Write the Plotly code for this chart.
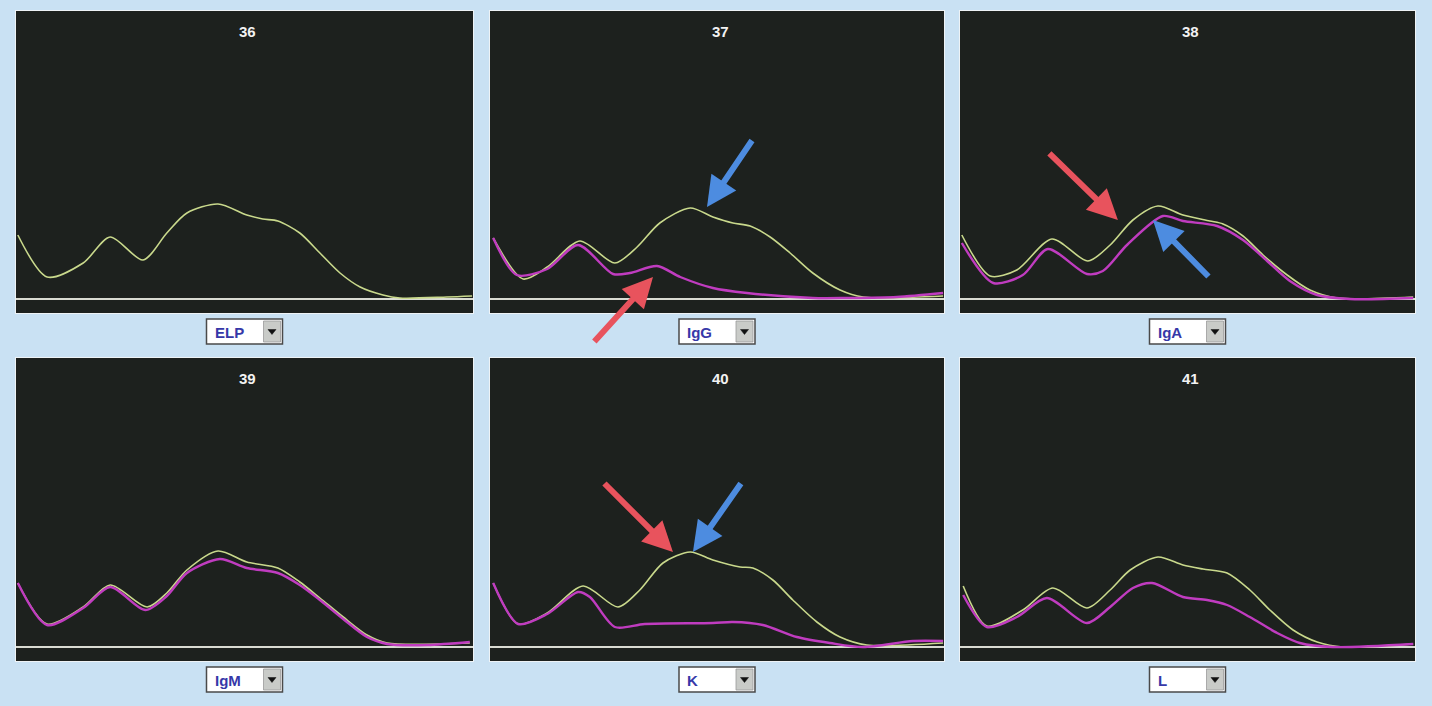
import plotly.graph_objects as go

W, H = 1432, 706

# ---------------- data (x: % of scan width, y: signal above baseline) ----------------
panel_titles = ["36", "37", "38", "39", "40", "41"]
panel_labels = ["ELP", "IgG", "IgA", "IgM", "K", "L"]

elp36_x = [0.4, 6.8, 14.7, 20.6, 27.8, 33.0, 37.4, 44.2, 50.5, 54.0, 57.3, 62.1, 66.5, 70.9, 75.3, 80.3, 84.0, 94.3, 99.8]
elp36_y = [64, 22, 36, 62, 39, 66, 86, 95, 84, 80, 78, 66, 46, 26, 12, 4, 1, 2, 3]

elp37_x = [0.7, 7.3, 12.6, 19.8, 27.5, 32.4, 37.4, 44.1, 49.1, 53.5, 57.3, 61.7, 66.1, 71.1, 77.1, 82.2, 99.8]
elp37_y = [61, 20, 32, 58, 36, 52, 76, 91, 82, 76, 73, 62, 46, 26, 9, 2, 3]
igg_x = [0.7, 5.9, 12.6, 19.4, 27.1, 30.8, 36.8, 41.9, 49.1, 56.6, 71.1, 78.6, 89.6, 99.8]
igg_y = [61, 24, 30, 54, 25, 26, 33, 22, 11, 6, 1, 1, 2, 6]

elp38_x = [0.4, 6.6, 12.5, 20.2, 28.1, 33.0, 38.0, 43.5, 49.0, 54.9, 57.8, 62.2, 66.6, 71.9, 76.9, 82.9, 99.6]
elp38_y = [64, 23, 29, 60, 38, 54, 79, 93, 84, 78, 75, 63, 44, 24, 9, 1, 2]
iga_x = [0.4, 7.3, 13.8, 19.3, 27.9, 31.4, 36.7, 44.6, 49.0, 56.5, 62.2, 67.5, 72.5, 78.5, 85.7, 99.6]
iga_y = [56, 16, 24, 50, 25, 28, 54, 83, 78, 73, 59, 38, 18, 4, 0, 1]

elp39_x = [0.4, 6.8, 14.7, 20.6, 28.7, 33.0, 37.4, 44.2, 50.5, 57.3, 62.1, 66.5, 71.6, 76.8, 81.2, 99.3]
elp39_y = [64, 23, 40, 62, 40, 54, 77, 96, 85, 79, 65, 49, 30, 12, 4, 4]
igm_x = [0.4, 6.8, 14.7, 20.6, 28.3, 33.0, 37.4, 44.6, 50.5, 57.3, 62.1, 66.5, 71.6, 76.8, 81.2, 90.0, 99.3]
igm_y = [64, 22, 39, 60, 37, 51, 74, 88, 79, 74, 62, 47, 28, 10, 3, 2, 5]

elp40_x = [0.7, 6.2, 12.6, 20.5, 28.2, 33.0, 38.1, 44.1, 49.1, 55.1, 57.9, 62.3, 66.7, 72.0, 77.1, 83.0, 99.8]
elp40_y = [64, 23, 34, 61, 40, 57, 84, 95, 87, 80, 79, 67, 47, 25, 10, 2, 4]
k_x = [0.7, 6.2, 12.6, 19.4, 22.0, 27.5, 34.1, 49.1, 53.5, 60.1, 67.6, 74.9, 82.2, 93.2, 99.8]
k_y = [64, 23, 33, 55, 50, 20, 23, 24, 25, 22, 10, 4, 0, 6, 6]

elp41_x = [0.7, 5.9, 13.8, 20.4, 27.9, 33.0, 37.4, 43.5, 49.0, 53.4, 58.7, 63.7, 68.1, 73.2, 78.5, 84.2, 99.6]
elp41_y = [61, 21, 37, 59, 39, 57, 77, 90, 82, 78, 74, 57, 37, 17, 5, 0, 3]
l_x = [0.7, 5.9, 12.5, 19.1, 27.9, 33.0, 38.0, 42.2, 49.0, 54.3, 58.7, 63.7, 69.7, 74.7, 82.0, 99.6]
l_y = [52, 20, 30, 49, 24, 40, 59, 64, 50, 47, 42, 30, 14, 4, 0, 3]

baseline_x = [0, 100]
baseline_y = [0, 0]

# ---------------- layout geometry ----------------
col_px = [(16, 473), (490, 944), (960, 1415)]
row_px = [(11, 313), (358, 661)]
y_ranges = [[-14, 288], [-14, 289]]

GREEN = "#c9d98c"
MAGENTA = "#c03cc0"
BG = "#c9e1f3"
PANEL = "#1d211e"

def px(x):
    return x / W

def py(y):
    return 1 - y / H

fig = go.Figure()
layout = dict(
    width=W, height=H,
    margin=dict(l=0, r=0, t=0, b=0),
    paper_bgcolor=BG, plot_bgcolor=PANEL,
    showlegend=False,
)

green_series = [(elp36_x, elp36_y), (elp37_x, elp37_y), (elp38_x, elp38_y),
                (elp39_x, elp39_y), (elp40_x, elp40_y), (elp41_x, elp41_y)]
mag_series = [None, (igg_x, igg_y), (iga_x, iga_y), (igm_x, igm_y), (k_x, k_y), (l_x, l_y)]

shapes = []
annotations = []

for i in range(6):
    r, c = divmod(i, 3)
    n = "" if i == 0 else str(i + 1)
    xa, ya = "x" + n, "y" + n
    (x0, x1), (y0, y1) = col_px[c], row_px[r]
    axis_common = dict(showgrid=False, zeroline=False, showticklabels=False, ticks="",
                       showline=True, mirror=True, linecolor="#eef3f6", linewidth=1,
                       fixedrange=True)
    layout["xaxis" + n] = dict(domain=[px(x0), px(x1)], range=[0, 100], anchor=ya, **axis_common)
    layout["yaxis" + n] = dict(domain=[py(y1), py(y0)], range=y_ranges[r], anchor=xa, **axis_common)

    fig.add_trace(go.Scatter(x=baseline_x, y=baseline_y, mode="lines", xaxis=xa, yaxis=ya,
                             line=dict(color="#d9dbd2", width=2), hoverinfo="skip"))
    gx, gy = green_series[i]
    fig.add_trace(go.Scatter(x=gx, y=gy, mode="lines", xaxis=xa, yaxis=ya,
                             line=dict(color=GREEN, width=1.6, shape="spline", smoothing=0.8)))
    if mag_series[i] is not None:
        mx, my = mag_series[i]
        fig.add_trace(go.Scatter(x=mx, y=my, mode="lines", xaxis=xa, yaxis=ya,
                                 line=dict(color=MAGENTA, width=2.4, shape="spline", smoothing=0.8)))

    # panel number title
    annotations.append(dict(xref="paper", yref="paper", x=px((x0 + x1) / 2 + 3), y=py(y0 + 20),
                            xanchor="center", yanchor="middle",
                            text="<b>%s</b>" % panel_titles[i], showarrow=False,
                            font=dict(family="Liberation Sans", size=15, color="#f2f2f2")))

    # dropdown box under the panel
    cx = (x0 + x1) / 2
    bx0, bx1 = cx - 38, cx + 38
    by0 = y1 + 6
    by1 = by0 + 25
    shapes.append(dict(type="rect", xref="paper", yref="paper", x0=px(bx0), x1=px(bx1),
                       y0=py(by1), y1=py(by0), fillcolor="#ffffff",
                       line=dict(color="#4a4a4a", width=1.5)))
    shapes.append(dict(type="rect", xref="paper", yref="paper", x0=px(bx1 - 19), x1=px(bx1 - 2),
                       y0=py(by1 - 2), y1=py(by0 + 2), fillcolor="#c9cbc8",
                       line=dict(color="#9a9a9a", width=0.8)))
    tx = bx1 - 10.5
    ty = (by0 + by1) / 2
    shapes.append(dict(type="path", xref="paper", yref="paper",
                       path="M %f %f L %f %f L %f %f Z" % (px(tx - 4), py(ty - 2), px(tx + 4), py(ty - 2),
                                                          px(tx), py(ty + 3)),
                       fillcolor="#111111", line=dict(color="#111111", width=0.5)))
    annotations.append(dict(xref="paper", yref="paper", x=px(bx0 + 6), y=py(ty + 1),
                            xanchor="left", yanchor="middle", text="<b>%s</b>" % panel_labels[i],
                            showarrow=False,
                            font=dict(family="Liberation Sans", size=15, color="#3638a8")))

# arrows: (panel index, tip x, tip y, tail dx px, tail dy px, colour)
RED = "#e8535d"
BLUE = "#4d8ce0"
arrows = [
    (1, 47.8, 92, 46, -68, BLUE),
    (1, 35.9, 22, -60, 66, RED),
    (2, 34.7, 79, -70, -68, RED),
    (2, 42.4, 79, 57, 58, BLUE),
    (4, 40.3, 95, -70, -70, RED),
    (4, 44.7, 95, 49, -70, BLUE),
]
for (pi, x, y, dx, dy, col) in arrows:
    n = "" if pi == 0 else str(pi + 1)
    annotations.append(dict(xref="x" + n, yref="y" + n, x=x, y=y, ax=dx, ay=dy,
                            text="", showarrow=True, arrowhead=2, arrowsize=1.0,
                            arrowwidth=6, arrowcolor=col, standoff=0))

layout["shapes"] = shapes
layout["annotations"] = annotations
fig.update_layout(**layout)
fig.write_html("out.html", config={"displayModeBar": False},
               post_script="document.body.style.margin='0';document.body.style.background='%s';" % BG)
